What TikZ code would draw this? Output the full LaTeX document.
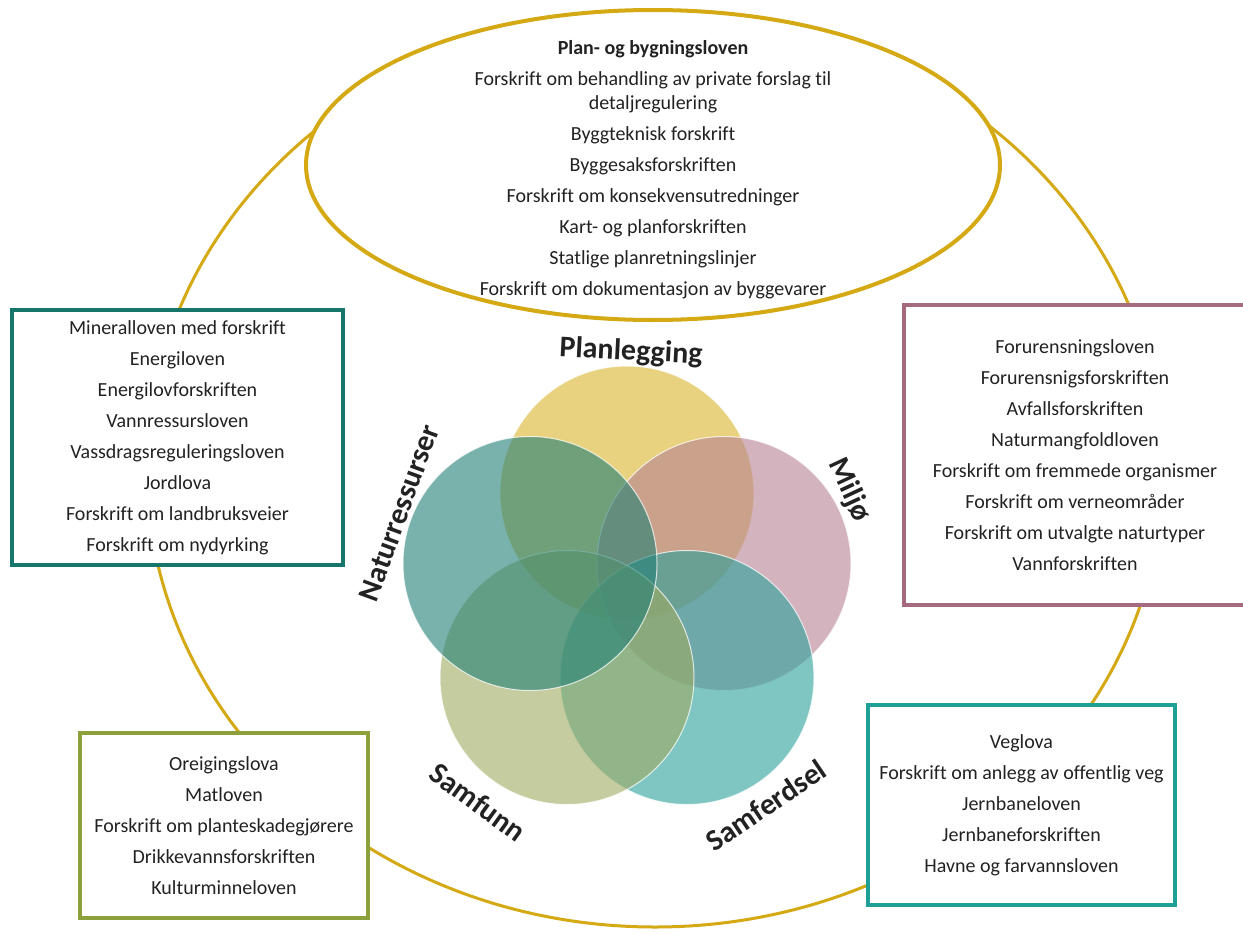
\documentclass[tikz,border=0pt]{standalone}
\usepackage{fontspec}
\setmainfont{Carlito}[Ligatures=NoCommon]
\usetikzlibrary{shapes.geometric}
\definecolor{gold}{HTML}{D4A914}
\definecolor{txt}{HTML}{222222}
\definecolor{bxnat}{HTML}{17766C}
\definecolor{bxmil}{HTML}{A66A80}
\definecolor{bxsam}{HTML}{8CA03C}
\definecolor{bxfer}{HTML}{1FA096}
\definecolor{cplan}{HTML}{D9B42B}
\definecolor{cmil}{HTML}{B78293}
\definecolor{cfer}{HTML}{2BA09B}
\definecolor{csam}{HTML}{9DAA61}
\definecolor{cnat}{HTML}{217F75}
\tikzset{
  lawbox/.style={draw, line width=4pt, fill=white, align=center, text=txt,
    font=\fontsize{20}{31}\selectfont, inner sep=0pt},
  venn/.style={circle, minimum size=254pt, inner sep=0pt, fill opacity=0.6,
    draw=white, draw opacity=0.75, line width=1pt},
  lab/.style={font=\fontsize{30}{34}\selectfont\bfseries, text=txt, inner sep=0pt}
}
\begin{document}
\begin{tikzpicture}[x=1pt,y=-1pt]
\useasboundingbox (0,0) rectangle (1243,934);
\fill[white] (0,0) rectangle (1243,934);
% outer ring
\node[draw=gold, line width=3pt, ellipse, minimum width=1016pt, minimum height=914pt, inner sep=0pt] (ring) at (655,470) {};
% top ellipse
\node[draw=gold, line width=4pt, fill=white, ellipse, minimum width=694pt, minimum height=310pt, inner sep=0pt] (pbl) at (653,165) {};
\node[align=center, text=txt, font=\fontsize{20}{31}\selectfont, inner sep=0pt] (pbltext) at (653,170) {%
\textbf{Plan- og bygningsloven}\\
Forskrift om behandling av private forslag til\\[-7pt]
detaljregulering\\
Byggteknisk forskrift\\
Byggesaksforskriften\\
Forskrift om konsekvensutredninger\\
Kart- og planforskriften\\
Statlige planretningslinjer\\
Forskrift om dokumentasjon av byggevarer};
% boxes
\node[lawbox, draw=bxnat, minimum width=331pt, minimum height=255pt] (bnat) at (177.5,437.5) {%
Mineralloven med forskrift\\ Energiloven\\ Energilovforskriften\\ Vannressursloven\\
Vassdragsreguleringsloven\\ Jordlova\\ Forskrift om landbruksveier\\ Forskrift om nydyrking};
\node[lawbox, draw=bxmil, minimum width=342pt, minimum height=300pt] (bmil) at (1075,455) {%
Forurensningsloven\\ Forurensnigsforskriften\\ Avfallsforskriften\\ Naturmangfoldloven\\
Forskrift om fremmede organismer\\ Forskrift om verneområder\\ Forskrift om utvalgte naturtyper\\ Vannforskriften};
\node[lawbox, draw=bxsam, minimum width=288pt, minimum height=185pt] (bsam) at (224,825.5) {%
Oreigingslova\\ Matloven\\ Forskrift om planteskadegjørere\\ Drikkevannsforskriften\\ Kulturminneloven};
\node[lawbox, draw=bxfer, minimum width=307pt, minimum height=200pt] (bfer) at (1021.5,805) {%
Veglova\\ Forskrift om anlegg av offentlig veg\\ Jernbaneloven\\ Jernbaneforskriften\\ Havne og farvannsloven};
% venn circles
\node[venn, fill=cplan] (vplan) at (627,493) {};
\node[venn, fill=cmil] (vmil) at (724,563.5) {};
\node[venn, fill=cfer] (vfer) at (687,677.5) {};
\node[venn, fill=csam] (vsam) at (567,677.5) {};
\node[venn, fill=cnat] (vnat) at (530,563.5) {};
% labels
\node[lab, rotate=-3] (lplan) at (631,352) {Planlegging};
\node[lab, rotate=-65] (lmil) at (849,490) {Miljø};
\node[lab, rotate=70] (lnat) at (399,513) {Naturressurser};
\node[lab, rotate=-36] (lsam) at (478,802) {Samfunn};
\node[lab, rotate=34] (lfer) at (766,805) {Samferdsel};
\end{tikzpicture}
\end{document}
